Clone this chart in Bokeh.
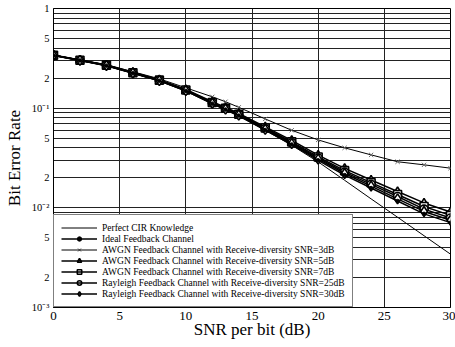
from bokeh.plotting import figure
from bokeh.models import Range1d, FixedTicker, Legend, LegendItem
from bokeh.embed import file_html
from bokeh.resources import INLINE

# ---- data ----
snr = [0, 2, 4, 6, 8, 10, 12, 13, 14, 16, 18, 20, 22, 24, 26, 28, 30]

perfect_cir = [0.338, 0.300, 0.266, 0.224, 0.187, 0.148, 0.110, 0.096, 0.083,
               0.060, 0.0425, 0.0289, 0.0189, 0.0123, 0.00805, 0.00525, 0.00343]
ideal_fb = [0.338, 0.301, 0.267, 0.224, 0.188, 0.149, 0.111, 0.0968, 0.0842,
            0.0604, 0.0432, 0.0300, 0.0213, 0.0158, 0.0117, 0.0087, 0.0071]
awgn_3db = [0.341, 0.305, 0.273, 0.232, 0.197, 0.160, 0.130, 0.116, 0.102,
            0.078, 0.060, 0.048, 0.040, 0.034, 0.029, 0.027, 0.025]
awgn_5db = [0.341, 0.304, 0.271, 0.229, 0.193, 0.154, 0.116, 0.1015, 0.0888,
            0.0650, 0.0475, 0.0338, 0.0249, 0.0190, 0.0146, 0.0112, 0.0091]
awgn_7db = [0.340, 0.303, 0.270, 0.227, 0.191, 0.152, 0.114, 0.0998, 0.0870,
            0.0632, 0.0459, 0.0324, 0.0236, 0.0179, 0.0136, 0.0103, 0.0084]
rayl_25db = [0.339, 0.302, 0.269, 0.226, 0.190, 0.151, 0.113, 0.0988, 0.0860,
             0.0622, 0.0450, 0.0316, 0.0228, 0.0172, 0.0130, 0.0097, 0.0079]
rayl_30db = [0.339, 0.302, 0.268, 0.225, 0.189, 0.150, 0.112, 0.0978, 0.0851,
             0.0613, 0.0441, 0.0308, 0.0221, 0.0165, 0.0123, 0.0092, 0.0075]

labels = [
    "Perfect CIR Knowledge",
    "Ideal Feedback Channel",
    "AWGN Feedback Channel with Receive-diversity SNR=3dB",
    "AWGN Feedback Channel with Receive-diversity SNR=5dB",
    "AWGN Feedback Channel with Receive-diversity SNR=7dB",
    "Rayleigh Feedback Channel with Receive-diversity SNR=25dB",
    "Rayleigh Feedback Channel with Receive-diversity SNR=30dB",
]

x_ticks = [0, 5, 10, 15, 20, 25, 30]
y_ticks = [1, 0.5, 0.2, 0.1, 0.05, 0.02, 0.01, 0.005, 0.002, 0.001]
y_tick_labels = ["1", "5", "2", "10\u207b\u00b9", "5", "2", "10\u207b\u00b2", "5", "2", "10\u207b\u00b3"]
y_minor = [m * 10.0 ** e for e in (-3, -2, -1) for m in range(2, 10)]

FONT = "Liberation Serif"

p = figure(width=455, height=347, y_axis_type="log",
           x_range=Range1d(0, 30), y_range=Range1d(0.001, 1),
           output_backend="svg", toolbar_location=None,
           min_border_left=53, min_border_right=5, min_border_top=8, min_border_bottom=40)

p.background_fill_color = "white"
p.outline_line_color = "black"
p.outline_line_width = 1

p.xaxis.ticker = FixedTicker(ticks=x_ticks)
p.yaxis.ticker = FixedTicker(ticks=y_ticks, minor_ticks=y_minor)
p.yaxis.major_label_overrides = {t: l for t, l in zip(y_ticks, y_tick_labels)}

for ax in (p.xaxis, p.yaxis):
    ax.major_tick_line_color = None
    ax.minor_tick_line_color = None
    ax.major_tick_in = 0
    ax.major_tick_out = 0
    ax.minor_tick_in = 0
    ax.minor_tick_out = 0
    ax.axis_line_color = "black"
    ax.major_label_text_font = FONT
    ax.axis_label_text_font = FONT
    ax.axis_label_text_font_style = "normal"
    ax.axis_label_text_font_size = "17px"
    ax.axis_label_text_color = "black"
    ax.major_label_text_color = "black"

p.xaxis.major_label_text_font_size = "13px"
p.yaxis.major_label_text_font_size = "10.5px"
p.xaxis.axis_label = "SNR per bit (dB)"
p.yaxis.axis_label = "Bit Error Rate"
p.xaxis.axis_label_standoff = -3
p.xaxis.major_label_standoff = 4
p.yaxis.axis_label_standoff = 5
p.yaxis.major_label_standoff = 4

p.xgrid.grid_line_color = "#222222"
p.xgrid.grid_line_width = 1
p.ygrid.grid_line_color = "#222222"
p.ygrid.grid_line_width = 1
p.ygrid.minor_grid_line_color = "#222222"
p.ygrid.minor_grid_line_width = 1

# Perfect CIR: thin line, no marker
r_cir = p.line(snr, perfect_cir, line_color="black", line_width=1)
item_cir = LegendItem(label=labels[0], renderers=[r_cir])

# AWGN 3dB: x markers, thin line
r1 = p.line(snr, awgn_3db, line_color="black", line_width=1)
r2 = p.scatter(snr, awgn_3db, marker="x", size=6, line_color="#666666", line_width=1)
item_a3 = LegendItem(label=labels[2], renderers=[r2, r1])

cluster = [
    (awgn_5db, "triangle", labels[3]),
    (awgn_7db, "square", labels[4]),
    (rayl_25db, "circle", labels[5]),
    (rayl_30db, "diamond", labels[6]),
]
cl_items = []
for vals, mk, lab in cluster:
    l = p.line(snr, vals, line_color="black", line_width=1.5)
    s = p.scatter(snr, vals, marker=mk, size=8 if mk != "diamond" else 10,
                  line_color="black", fill_color="white", line_width=1.6)
    cl_items.append(LegendItem(label=lab, renderers=[s, l]))

l = p.line(snr, ideal_fb, line_color="black", line_width=1.5)
s = p.scatter(snr, ideal_fb, marker="circle", size=3.5, line_color="black", fill_color="black")
ideal_item = LegendItem(label=labels[1], renderers=[s, l])

ordered = [item_cir, ideal_item, item_a3] + cl_items

legend = Legend(items=ordered, location="bottom_left", margin=0, padding=7,
                spacing=0, glyph_width=36, glyph_height=11, label_height=11,
                label_standoff=5, label_text_font=FONT, label_text_font_size="9.5px",
                label_text_color="black", border_line_color="black", border_line_width=1,
                background_fill_color="white", background_fill_alpha=1.0)
p.add_layout(legend, "center")

open("out.html", "w").write(file_html(p, INLINE))
